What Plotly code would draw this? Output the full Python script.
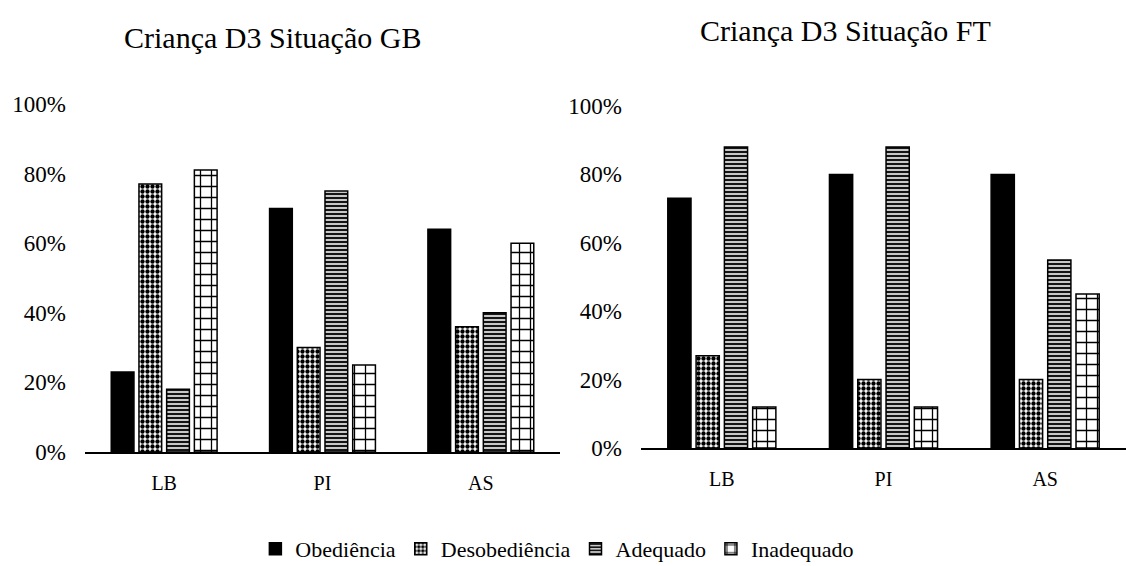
import plotly.graph_objects as go

# Categories and series (percent)
categories = ["LB", "PI", "AS"]
series_names = ["Obediência", "Desobediência", "Adequado", "Inadequado"]

gb_obediencia = [23, 70, 64]
gb_desobediencia = [77, 30, 36]
gb_adequado = [18, 75, 40]
gb_inadequado = [81, 25, 60]

ft_obediencia = [73, 80, 80]
ft_desobediencia = [27, 20, 20]
ft_adequado = [88, 88, 55]
ft_inadequado = [12, 12, 45]

y_ticks = [0, 20, 40, 60, 80, 100]
y_tick_text = ["0%", "20%", "40%", "60%", "80%", "100%"]

W, H = 1126, 566
FONT = "Liberation Serif, Times New Roman, serif"

patterns = [
    dict(shape="", fillmode="replace"),
    dict(shape=".", fgcolor="black", bgcolor="white", size=5, solidity=0.6, fillmode="replace"),
    dict(shape="-", fgcolor="black", bgcolor="#c8c8c8", size=4, solidity=0.45, fillmode="replace"),
    dict(shape="+", fgcolor="black", bgcolor="white", size=11, solidity=0.22, fillmode="replace"),
]
colors = ["black", "white", "white", "white"]

fig = go.Figure()

gb = [gb_obediencia, gb_desobediencia, gb_adequado, gb_inadequado]
ft = [ft_obediencia, ft_desobediencia, ft_adequado, ft_inadequado]

for i, name in enumerate(series_names):
    fig.add_trace(go.Bar(
        x=categories, y=gb[i], name=name, legendgroup=name,
        marker=dict(color=colors[i], pattern=patterns[i],
                    line=dict(color="black", width=1.5)),
        xaxis="x", yaxis="y", showlegend=True,
    ))
for i, name in enumerate(series_names):
    fig.add_trace(go.Bar(
        x=categories, y=ft[i], name=name, legendgroup=name,
        marker=dict(color=colors[i], pattern=patterns[i],
                    line=dict(color="black", width=1.5)),
        xaxis="x2", yaxis="y2", showlegend=False,
    ))

def px_x(a, b):
    return [a / W, b / W]

def px_y(bottom, top):
    return [(H - bottom) / H, (H - top) / H]

axis_x = dict(showline=True, linecolor="black", linewidth=2, showgrid=False,
              zeroline=False, ticks="", ticklabelstandoff=12, automargin=False,
              tickfont=dict(family=FONT, size=20, color="black"))
axis_y = dict(range=[0, 100], tickvals=y_ticks, ticktext=y_tick_text,
              showgrid=False, zeroline=False, showline=False, ticks="",
              ticklabelstandoff=18, automargin=False,
              tickfont=dict(family=FONT, size=23, color="black"))

fig.update_layout(
    width=W, height=H,
    margin=dict(l=0, r=0, t=0, b=0, autoexpand=False),
    paper_bgcolor="white", plot_bgcolor="white",
    barmode="group", bargap=0.3, bargroupgap=0.18,
    xaxis=dict(domain=px_x(85, 560), anchor="y", **axis_x),
    yaxis=dict(domain=px_y(452, 104), anchor="x", **axis_y),
    xaxis2=dict(domain=px_x(641, 1126), anchor="y2", **axis_x),
    yaxis2=dict(domain=px_y(448, 106), anchor="x2", **axis_y),
    legend=dict(orientation="h", x=0.495, xanchor="center", y=(H - 549) / H,
                yanchor="middle", font=dict(family=FONT, size=22, color="black"),
                itemwidth=30, traceorder="normal", bgcolor="rgba(0,0,0,0)"),
    annotations=[
        dict(text="Criança D3 Situação GB", x=272 / W, y=(H - 37) / H,
             xref="paper", yref="paper", xanchor="center", yanchor="middle",
             showarrow=False, font=dict(family=FONT, size=30, color="black")),
        dict(text="Criança D3 Situação FT", x=845 / W, y=(H - 30) / H,
             xref="paper", yref="paper", xanchor="center", yanchor="middle",
             showarrow=False, font=dict(family=FONT, size=30, color="black")),
    ],
)

fig.write_html("out.html")
